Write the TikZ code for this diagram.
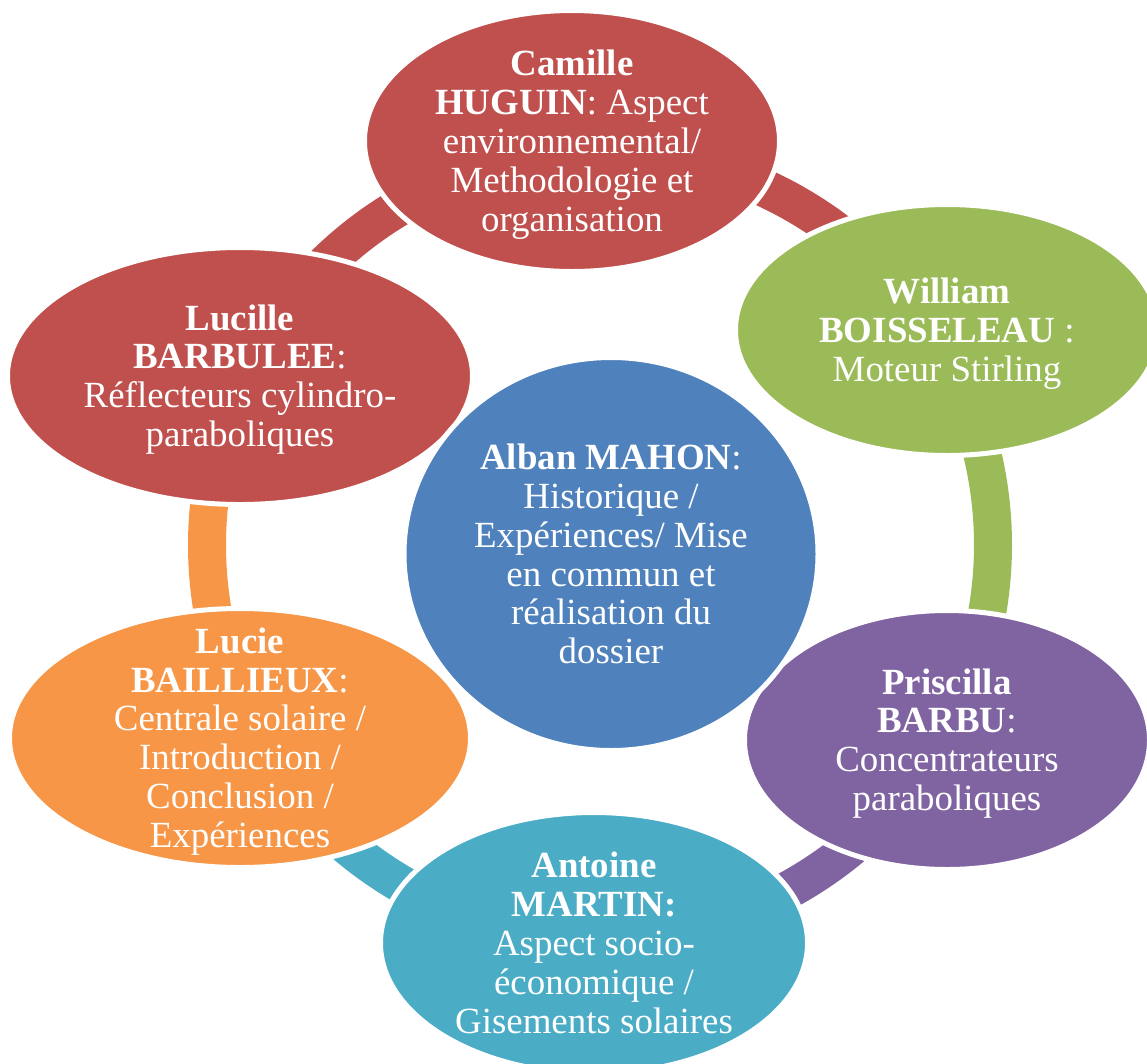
\documentclass[tikz,border=0pt]{standalone}
\usepackage{fontspec}
\setmainfont{Liberation Serif}
\usetikzlibrary{shapes.geometric}
\definecolor{cycRed}{HTML}{C0504D}
\definecolor{cycGreen}{HTML}{9BBB59}
\definecolor{cycPurple}{HTML}{8064A2}
\definecolor{cycAqua}{HTML}{4BACC6}
\definecolor{cycOrange}{HTML}{F79646}
\definecolor{cycBlue}{HTML}{4F81BD}
\tikzset{
  cyc ring/.style={line width=7.6mm, line cap=butt},
  cyc bubble/.style={ellipse, draw=white, line width=1mm, inner sep=0pt},
  cyc label/.style={text=white, align=center, inner sep=0pt, font=\fontsize{21}{22.1}\selectfont},
  cyc low/.style={yshift=-0.7mm},
}

\begin{document}
\begin{tikzpicture}[x=0.2mm,y=-0.2mm]
\useasboundingbox (0,0) rectangle (1147,1063);
\coordinate (hub) at (600,545);
% ring segments under the bubbles
\foreach \a/\b/\c in {-94/-32/cycRed,-32/29/cycGreen,29/91/cycPurple,91/152/cycAqua,152/205/cycOrange,205/266/cycRed}{
  \draw[cyc ring,draw=\c] (hub) ++(\a:393) arc[start angle=\a,end angle=\b,radius=393];
}
% bubbles
\node[cyc bubble,fill=cycRed,minimum width=83mm,minimum height=52.2mm] (camille) at (572,141) {};
\node[cyc bubble,fill=cycGreen,minimum width=84.6mm,minimum height=50.2mm] (william) at (947,330) {};
\node[cyc bubble,fill=cycPurple,minimum width=81mm,minimum height=51.8mm] (priscilla) at (947,740) {};
\node[cyc bubble,fill=cycAqua,minimum width=85.4mm,minimum height=52.2mm] (antoine) at (594,943) {};
\node[cyc bubble,fill=cycOrange,minimum width=92.2mm,minimum height=51.8mm] (lucie) at (240,738) {};
\node[cyc bubble,fill=cycRed,minimum width=93mm,minimum height=51.4mm] (lucille) at (240,376) {};
\node[cyc bubble,fill=cycBlue,minimum width=82.8mm,minimum height=78.6mm] (alban) at (611,554) {};
% texts
\node[cyc label,cyc low] (camille-txt) at (camille) {\textbf{Camille}\\\textbf{HUGUIN}: Aspect\\environnemental/\\Methodologie et\\organisation};
\node[cyc label,cyc low] (william-txt) at (william) {\textbf{William}\\\textbf{BOISSELEAU} :\\Moteur Stirling};
\node[cyc label,cyc low] (priscilla-txt) at (priscilla) {\textbf{Priscilla}\\\textbf{BARBU}:\\Concentrateurs\\paraboliques};
\node[cyc label] (antoine-txt) at (antoine) {\textbf{Antoine}\\\textbf{MARTIN:}\\Aspect socio-\\économique /\\Gisements solaires};
\node[cyc label,cyc low] (lucie-txt) at (lucie) {\textbf{Lucie}\\\textbf{BAILLIEUX}:\\Centrale solaire /\\Introduction /\\Conclusion /\\Expériences};
\node[cyc label,cyc low] (lucille-txt) at (lucille) {\textbf{Lucille}\\\textbf{BARBULEE}:\\Réflecteurs cylindro-\\paraboliques};
\node[cyc label] (alban-txt) at (alban) {\textbf{Alban MAHON}:\\Historique /\\Expériences/ Mise\\en commun et\\réalisation du\\dossier};
\end{tikzpicture}
\end{document}
